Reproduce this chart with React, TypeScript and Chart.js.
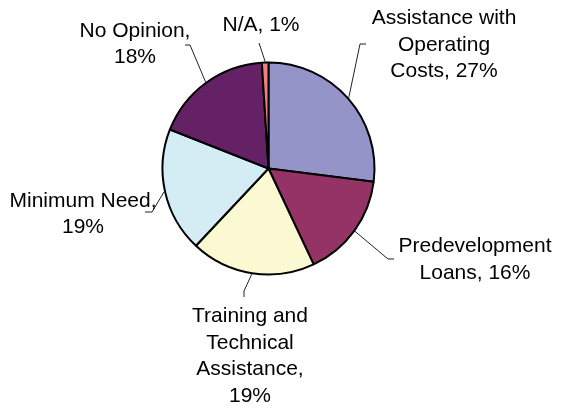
import React, { useEffect, useRef } from "react";
import { Chart, registerables } from "chart.js";

Chart.register(...registerables);

// ---- data ----
const categories = [
  "Assistance with Operating Costs",
  "Predevelopment Loans",
  "Training and Technical Assistance",
  "Minimum Need",
  "No Opinion",
  "N/A",
];
const values = [27, 16, 19, 19, 18, 1];

// ---- style ----
const sliceColors = ["#9494C8", "#963366", "#FAF9D1", "#D4ECF4", "#642166", "#F08080"];
const FONT = '21px "Liberation Sans", Arial, sans-serif';
const LINE_HEIGHT = 26.6;

// label layout: text centre x, first baseline y, wrap width, leader path after the arc point
const labelLayout = [
  { cx: 444, y: 24, wrap: 150, path: [[360, 44], [366, 44]] },
  { cx: 475, y: 252, wrap: 160, path: [[388, 259], [394, 259]] },
  { cx: 250, y: 322, wrap: 120, path: [[244, 291], [244, 297]] },
  { cx: 83, y: 206.5, wrap: 150, path: [[152, 212], [145, 212]] },
  { cx: 135, y: 36.5, wrap: 120, path: [[190, 45], [185, 45]] },
  { cx: 261, y: 31, wrap: 200, path: [[259, 43]] },
];

function wrapText(ctx: CanvasRenderingContext2D, text: string, maxW: number): string[] {
  const words = text.split(" ");
  const lines: string[] = [];
  let cur = "";
  for (const w of words) {
    const test = cur ? cur + " " + w : w;
    if (cur && ctx.measureText(test).width > maxW) {
      lines.push(cur);
      cur = w;
    } else {
      cur = test;
    }
  }
  if (cur) lines.push(cur);
  return lines;
}

const leaderLabels = {
  id: "leaderLabels",
  afterDatasetsDraw(chart: any) {
    const ctx: CanvasRenderingContext2D = chart.ctx;
    const meta = chart.getDatasetMeta(0);
    ctx.save();
    meta.data.forEach((arc: any, i: number) => {
      const { x, y, startAngle, endAngle, outerRadius } = arc.getProps(
        ["x", "y", "startAngle", "endAngle", "outerRadius"],
        true
      );
      const mid = (startAngle + endAngle) / 2;
      const sx = x + Math.cos(mid) * (outerRadius + 1);
      const sy = y + Math.sin(mid) * (outerRadius + 1);
      const lay = labelLayout[i];
      ctx.strokeStyle = "#222";
      ctx.lineWidth = 1;
      ctx.beginPath();
      ctx.moveTo(sx, sy);
      lay.path.forEach((p) => ctx.lineTo(p[0], p[1]));
      ctx.stroke();

      ctx.font = FONT;
      ctx.fillStyle = "#000";
      ctx.textAlign = "center";
      ctx.textBaseline = "alphabetic";
      const text = `${categories[i]}, ${values[i]}%`;
      const lines = wrapText(ctx, text, lay.wrap);
      lines.forEach((ln, k) => ctx.fillText(ln, lay.cx, lay.y + k * LINE_HEIGHT));
    });
    ctx.restore();
  },
};

export default function App() {
  const ref = useRef<HTMLCanvasElement>(null);
  useEffect(() => {
    if (!ref.current) return;
    const chart = new Chart(ref.current, {
      type: "pie",
      data: {
        labels: categories,
        datasets: [
          {
            data: values,
            backgroundColor: sliceColors,
            borderColor: "#000",
            borderWidth: 2,
          },
        ],
      },
      options: {
        animation: false,
        responsive: false,
        layout: { padding: { left: 161.5, right: 186.5, top: 61.5, bottom: 133.5 } },
        plugins: {
          legend: { display: false },
          tooltip: { enabled: false },
        },
      },
      plugins: [leaderLabels],
    });
    return () => chart.destroy();
  }, []);
  return (
    <div style={{ position: "fixed", left: 0, top: 0, width: 562, height: 409, background: "#fff" }}>
      <canvas ref={ref} width={562} height={409} style={{ display: "block" }} />
    </div>
  );
}
